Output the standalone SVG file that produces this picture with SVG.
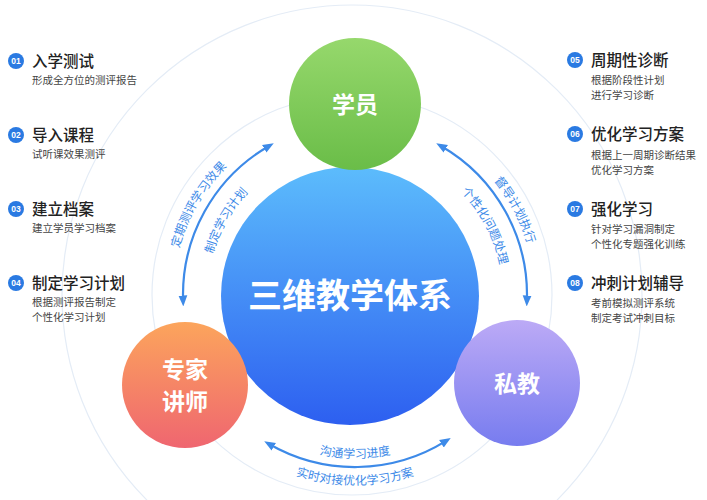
<svg xmlns="http://www.w3.org/2000/svg" width="707" height="500" viewBox="0 0 707 500">
<defs>
<linearGradient id="gG" x1="0" y1="0" x2="0" y2="1"><stop offset="0" stop-color="#96d86c"/><stop offset="1" stop-color="#6abd48"/></linearGradient>
<linearGradient id="gB" x1="0" y1="0" x2="0" y2="1"><stop offset="0" stop-color="#5cbcfc"/><stop offset="1" stop-color="#2d5ff0"/></linearGradient>
<linearGradient id="gO" x1="0" y1="0" x2="0" y2="1"><stop offset="0" stop-color="#fca55c"/><stop offset="1" stop-color="#ef6670"/></linearGradient>
<linearGradient id="gP" x1="0" y1="0" x2="0" y2="1"><stop offset="0" stop-color="#bcaaf6"/><stop offset="1" stop-color="#777cef"/></linearGradient>
<marker id="ah" viewBox="0 0 10 10" refX="5" refY="5" markerWidth="5" markerHeight="5" orient="auto-start-reverse"><path d="M0,1 L10,5 L0,9 Z" fill="#3d8ae8"/></marker>
<path id="pL1" d="M197.1,385 A180,180 0 0 1 355,115"/>
<path id="pL2" d="M226.8,369 A148,148 0 0 1 355,147"/>
<path id="pR1" d="M361.3,115.1 A180,180 0 0 1 507.6,390.4"/>
<path id="pR2" d="M360.2,147.1 A148,148 0 0 1 480.5,373.4"/>
<path id="pB1" d="M213.8,376.5 A163,163 0 0 0 496.2,376.5"/>
<path id="pB2" d="M190.5,390 A190,190 0 0 0 519.5,390"/>
</defs>
<style>
.t{font-family:"Noto Sans CJK SC","Noto Sans",sans-serif}
.h{font-size:15.5px;fill:#222;font-weight:500}
.s{font-size:10.5px;fill:#444}
.bd{fill:#2a7ae2}
.bn{font-family:"Liberation Sans",sans-serif;font-size:8.5px;fill:#fff;font-weight:bold;text-anchor:middle}
.ring{fill:none;stroke:#e4ecf6;stroke-width:1.2}
.arc{fill:none;stroke:#3d8ae8;stroke-width:2.2;marker-start:url(#ah);marker-end:url(#ah)}
.al{font-size:12px;fill:#3d8ae8;text-anchor:middle}
.w{fill:#fff;font-weight:bold;text-anchor:middle}
</style>
<rect width="707" height="500" fill="#fff"/>
<g id="rings">
<circle class="ring" cx="352" cy="295" r="200"/>
<circle class="ring" cx="352" cy="295" r="290"/>
</g>
<g id="connectors">
<path class="arc" d="M183.1,301 A172,172 0 0 1 269,146"/>
<path class="arc" d="M441,146 A172,172 0 0 1 526.9,301"/>
<path class="arc" d="M446.1,440.9 A172,172 0 0 1 269,444"/>
<text class="t al"><textPath href="#pL1" startOffset="50%">定期测评学习效果</textPath></text>
<text class="t al"><textPath href="#pL2" startOffset="50%">制定学习计划</textPath></text>
<text class="t al"><textPath href="#pR1" startOffset="50%">督导计划执行</textPath></text>
<text class="t al"><textPath href="#pR2" startOffset="50%">个性化问题处理</textPath></text>
<text class="t al"><textPath href="#pB1" startOffset="50%">沟通学习进度</textPath></text>
<text class="t al"><textPath href="#pB2" startOffset="50%">实时对接优化学习方案</textPath></text>
</g>
<g id="center"><circle cx="350" cy="296" r="129" fill="url(#gB)"/><text class="t w" x="350" y="308" font-size="34">三维教学体系</text></g>
<g id="student"><circle cx="355" cy="104" r="66" fill="url(#gG)"/><text class="t w" x="355" y="113" font-size="23">学员</text></g>
<g id="expert"><circle cx="185" cy="385" r="63" fill="url(#gO)"/><text class="t w" x="185" y="378" font-size="23">专家</text><text class="t w" x="185" y="410" font-size="23">讲师</text></g>
<g id="tutor"><circle cx="517" cy="383" r="63" fill="url(#gP)"/><text class="t w" x="517" y="392" font-size="23">私教</text></g>
<g id="step01"><circle class="bd" cx="16" cy="61" r="8"/><text class="bn" x="16" y="64">01</text><text class="t h" x="32" y="67">入学测试</text><text class="t s" x="32" y="84">形成全方位的测评报告</text></g>
<g id="step02"><circle class="bd" cx="16" cy="135" r="8"/><text class="bn" x="16" y="138">02</text><text class="t h" x="32" y="141">导入课程</text><text class="t s" x="32" y="158">试听课效果测评</text></g>
<g id="step03"><circle class="bd" cx="16" cy="209" r="8"/><text class="bn" x="16" y="212">03</text><text class="t h" x="32" y="215">建立档案</text><text class="t s" x="32" y="232">建立学员学习档案</text></g>
<g id="step04"><circle class="bd" cx="16" cy="283" r="8"/><text class="bn" x="16" y="286">04</text><text class="t h" x="32" y="289">制定学习计划</text><text class="t s" x="32" y="306">根据测评报告制定</text><text class="t s" x="32" y="321">个性化学习计划</text></g>
<g id="step05"><circle class="bd" cx="575" cy="60" r="8"/><text class="bn" x="575" y="63">05</text><text class="t h" x="591" y="66">周期性诊断</text><text class="t s" x="591" y="84">根据阶段性计划</text><text class="t s" x="591" y="99">进行学习诊断</text></g>
<g id="step06"><circle class="bd" cx="575" cy="134" r="8"/><text class="bn" x="575" y="137">06</text><text class="t h" x="591" y="140">优化学习方案</text><text class="t s" x="591" y="159">根据上一周期诊断结果</text><text class="t s" x="591" y="174">优化学习方案</text></g>
<g id="step07"><circle class="bd" cx="575" cy="209" r="8"/><text class="bn" x="575" y="212">07</text><text class="t h" x="591" y="215">强化学习</text><text class="t s" x="591" y="233">针对学习漏洞制定</text><text class="t s" x="591" y="248">个性化专题强化训练</text></g>
<g id="step08"><circle class="bd" cx="575" cy="283" r="8"/><text class="bn" x="575" y="286">08</text><text class="t h" x="591" y="289">冲刺计划辅导</text><text class="t s" x="591" y="307">考前模拟测评系统</text><text class="t s" x="591" y="322">制定考试冲刺目标</text></g>
</svg>
